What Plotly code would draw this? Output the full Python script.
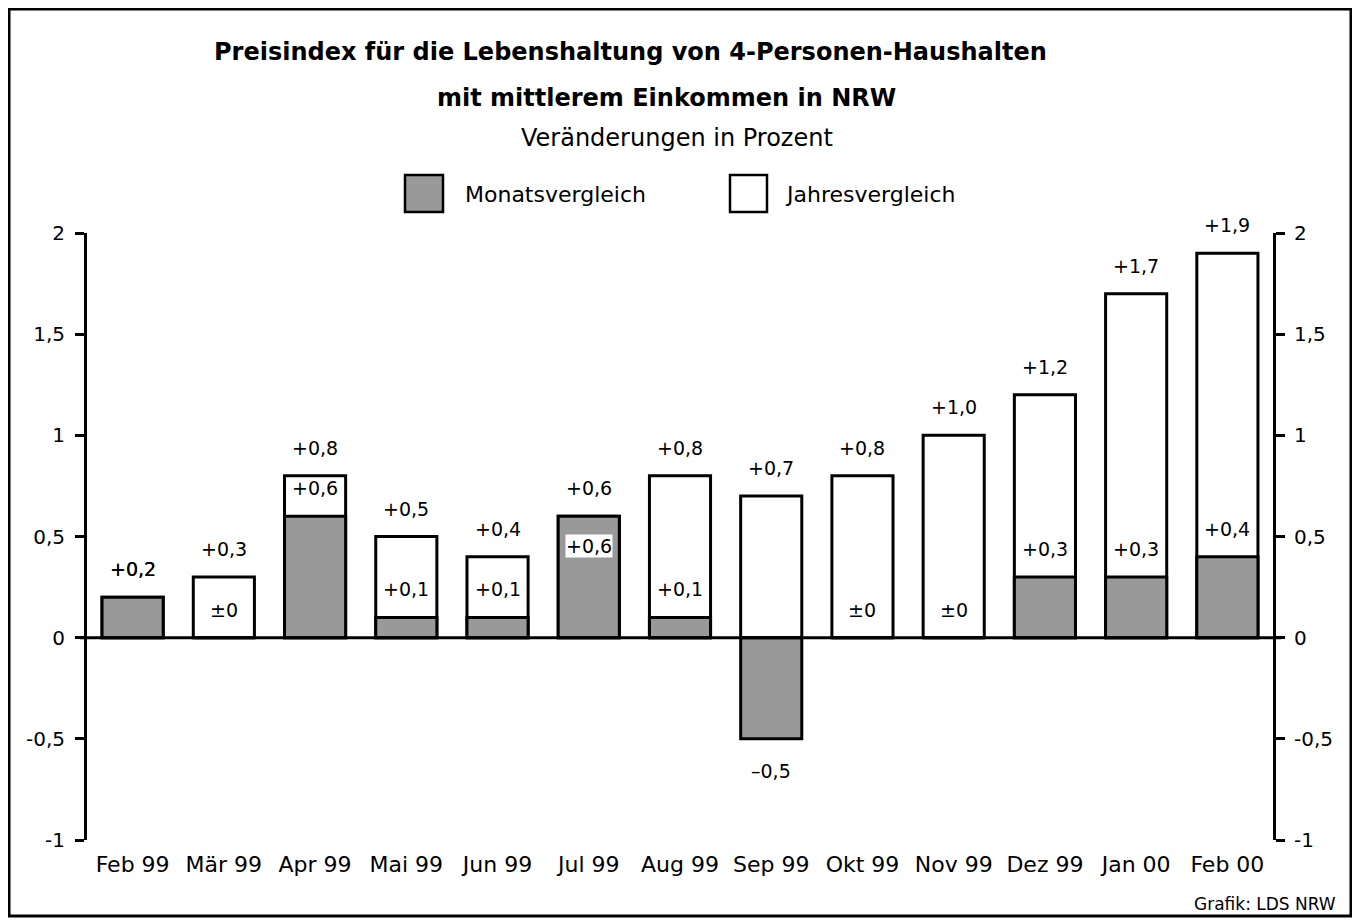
import plotly.graph_objects as go

categories = ["Feb 99", "Mär 99", "Apr 99", "Mai 99", "Jun 99", "Jul 99", "Aug 99",
              "Sep 99", "Okt 99", "Nov 99", "Dez 99", "Jan 00", "Feb 00"]
monats = [0.2, 0.0, 0.6, 0.1, 0.1, 0.6, 0.1, -0.5, 0.0, 0.0, 0.3, 0.3, 0.4]
jahres = [0.2, 0.3, 0.8, 0.5, 0.4, 0.6, 0.8, 0.7, 0.8, 1.0, 1.2, 1.7, 1.9]
tick_vals = [-1, -0.5, 0, 0.5, 1, 1.5, 2]
tick_text = ["-1", "-0,5", "0", "0,5", "1", "1,5", "2"]

FONT = "DejaVu Sans"
GRAY = "#999999"

W, H = 1344, 910
L, R, T, B = 79, 79, 225, 78
PW, PH = W - L - R, H - T - B


def px(x):
    return (x - L) / PW


def py(y):
    return (H - B - y) / PH


def fmt(v):
    if v == 0:
        return "±0"
    s = f"{abs(v):.1f}".replace(".", ",")
    return ("+" if v > 0 else "–") + s


fig = go.Figure()
fig.add_trace(go.Bar(x=categories, y=jahres, marker=dict(color="white", line=dict(color="black", width=3)),
                     name="Jahresvergleich", showlegend=False, hoverinfo="skip"))
fig.add_trace(go.Bar(x=categories, y=monats, marker=dict(color=GRAY, line=dict(color="black", width=3)),
                     name="Monatsvergleich", showlegend=False, hoverinfo="skip"))
fig.add_trace(go.Scatter(x=categories, y=[None] * len(categories), yaxis="y2", showlegend=False,
                         hoverinfo="skip", mode="lines"))

ann = []
lab_font = dict(family=FONT, size=19, color="black")
for c, m, j in zip(categories, monats, jahres):
    ann.append(dict(x=c, y=j, text=fmt(j), showarrow=False, yanchor="middle", yshift=28, font=lab_font))
    if m < 0:
        ann.append(dict(x=c, y=m, text=fmt(m), showarrow=False, yanchor="middle", yshift=-32, font=lab_font))
    elif m == j and m > 0.3:
        ann.append(dict(x=c, y=m, text=fmt(m), showarrow=False, yanchor="middle", yshift=-30,
                        font=lab_font, bgcolor="white", borderpad=0))
    else:
        ann.append(dict(x=c, y=m, text=fmt(m), showarrow=False, yanchor="middle", yshift=28, font=lab_font))

title_font = dict(family=FONT, size=24, color="black")
ann += [
    dict(xref="paper", yref="paper", x=px(622), y=py(44), text="<b>Preisindex für die Lebenshaltung von 4-Personen-Haushalten</b>",
         showarrow=False, font=title_font, xanchor="center", yanchor="middle"),
    dict(xref="paper", yref="paper", x=px(658), y=py(90), text="<b>mit mittlerem Einkommen in NRW</b>",
         showarrow=False, font=title_font, xanchor="center", yanchor="middle"),
    dict(xref="paper", yref="paper", x=px(669), y=py(130), text="Veränderungen in Prozent",
         showarrow=False, font=dict(family=FONT, size=24, color="black"), xanchor="center", yanchor="middle"),
    dict(xref="paper", yref="paper", x=px(455), y=py(187), text="Monatsvergleich",
         showarrow=False, font=dict(family=FONT, size=22, color="black"), xanchor="left", yanchor="middle"),
    dict(xref="paper", yref="paper", x=px(775), y=py(187), text="Jahresvergleich",
         showarrow=False, font=dict(family=FONT, size=22, color="black"), xanchor="left", yanchor="middle"),
    dict(xref="paper", yref="paper", x=px(1330), y=py(896), text="Grafik: LDS NRW",
         showarrow=False, font=dict(family=FONT, size=17, color="black"), xanchor="right", yanchor="middle"),
]

shapes = [
    dict(type="rect", xref="paper", yref="paper", x0=px(1), x1=px(1343), y0=py(1), y1=py(908),
         line=dict(color="black", width=3), fillcolor="rgba(0,0,0,0)", layer="below"),
    dict(type="rect", xref="paper", yref="paper", x0=px(397), x1=px(435), y0=py(167), y1=py(204),
         line=dict(color="black", width=2.5), fillcolor=GRAY),
    dict(type="rect", xref="paper", yref="paper", x0=px(722), x1=px(759), y0=py(167), y1=py(204),
         line=dict(color="black", width=2.5), fillcolor="white"),
    dict(type="line", xref="paper", yref="y", x0=px(72), x1=px(1273), y0=0, y1=0,
         line=dict(color="black", width=3)),
]

axis_font = dict(family=FONT, size=20, color="black")
fig.update_layout(
    width=W, height=H,
    margin=dict(l=L, r=R, t=T, b=B),
    paper_bgcolor="white", plot_bgcolor="white",
    barmode="overlay", bargap=0.33,
    separators=",.",
    xaxis=dict(range=[-0.5, len(categories) - 0.5], showgrid=False, zeroline=False, showline=False, ticks="",
               tickfont=dict(family=FONT, size=22, color="black"),
               ticklabelstandoff=9, fixedrange=True),
    yaxis=dict(range=[-1, 2], tickvals=tick_vals, ticktext=tick_text, showgrid=False, zeroline=False,
               showline=True, linecolor="black", linewidth=3, ticks="outside", ticklen=9, tickwidth=3,
               tickcolor="black", tickfont=axis_font, ticklabelstandoff=6),
    yaxis2=dict(range=[-1, 2], tickvals=tick_vals, ticktext=tick_text, overlaying="y", side="right",
                showgrid=False, zeroline=False, showline=True, linecolor="black", linewidth=3,
                ticks="outside", ticklen=9, tickwidth=3, tickcolor="black", tickfont=axis_font,
                ticklabelstandoff=5),
    annotations=ann, shapes=shapes,
)

fig.write_html("out.html")
